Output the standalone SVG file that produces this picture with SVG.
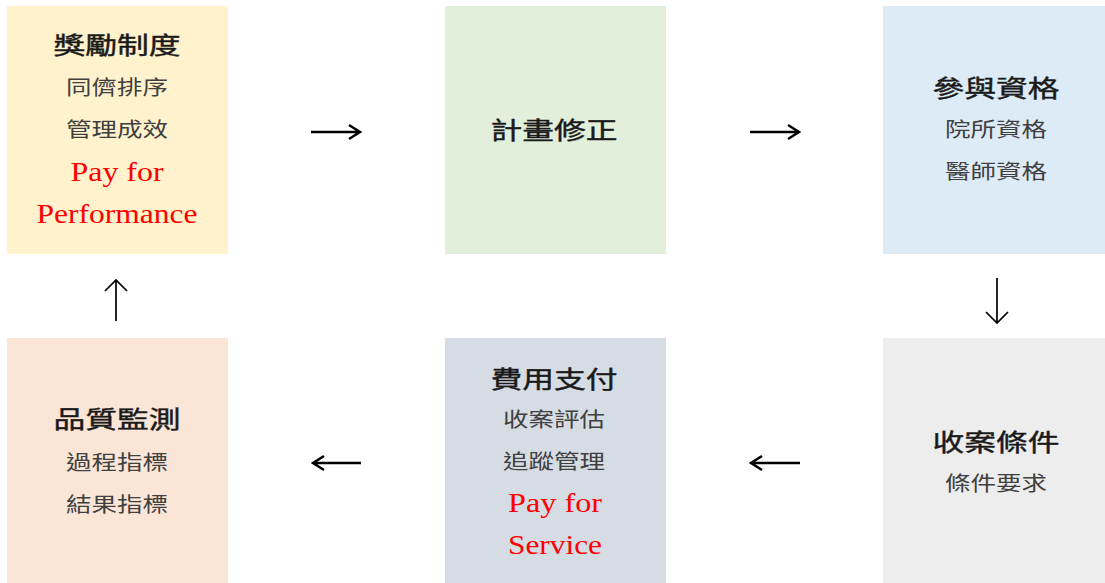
<svg xmlns="http://www.w3.org/2000/svg" width="1105" height="583" viewBox="0 0 1105 583">
<style>
.t{font-family:"Noto Sans CJK TC","Noto Sans CJK SC",sans-serif;font-size:24px;font-weight:normal;fill:#1a1a1a;stroke:#1a1a1a;stroke-width:0.4;text-anchor:middle}
.s{font-family:"Noto Sans CJK TC","Noto Sans CJK SC",sans-serif;font-size:20px;fill:#404040;text-anchor:middle}
.r{font-family:"Liberation Serif",serif;font-size:27px;fill:#ff0000;text-anchor:middle}
.a{fill:none;stroke:#000;stroke-width:2.5}
.v{fill:none;stroke:#000;stroke-width:1.7}
</style>
<rect width="1105" height="583" fill="#ffffff"/>
<g id="node-reward">
<rect x="7" y="6" width="221" height="248" fill="#FFF2CC"/>
<text class="t" x="117" y="54" textLength="127" lengthAdjust="spacingAndGlyphs">獎勵制度</text>
<text class="s" x="117" y="95" textLength="102" lengthAdjust="spacingAndGlyphs">同儕排序</text>
<text class="s" x="117" y="137" textLength="102" lengthAdjust="spacingAndGlyphs">管理成效</text>
<text class="r" x="117" y="181" textLength="93" lengthAdjust="spacingAndGlyphs">Pay for</text>
<text class="r" x="117" y="223" textLength="161" lengthAdjust="spacingAndGlyphs">Performance</text>
</g>
<g id="node-plan">
<rect x="445" y="6" width="221" height="248" fill="#E2EFDA"/>
<text class="t" x="554" y="139" textLength="127" lengthAdjust="spacingAndGlyphs">計畫修正</text>
</g>
<g id="node-eligibility">
<rect x="883" y="6" width="222" height="248" fill="#DDEBF7"/>
<text class="t" x="996" y="97" textLength="127" lengthAdjust="spacingAndGlyphs">參與資格</text>
<text class="s" x="996" y="137" textLength="102" lengthAdjust="spacingAndGlyphs">院所資格</text>
<text class="s" x="996" y="179" textLength="102" lengthAdjust="spacingAndGlyphs">醫師資格</text>
</g>
<g id="node-enrollment">
<rect x="883" y="338" width="222" height="245" fill="#EDEDED"/>
<text class="t" x="996" y="451" textLength="127" lengthAdjust="spacingAndGlyphs">收案條件</text>
<text class="s" x="996" y="491" textLength="102" lengthAdjust="spacingAndGlyphs">條件要求</text>
</g>
<g id="node-payment">
<rect x="445" y="338" width="221" height="245" fill="#D6DCE4"/>
<text class="t" x="554" y="388" textLength="127" lengthAdjust="spacingAndGlyphs">費用支付</text>
<text class="s" x="554" y="427" textLength="102" lengthAdjust="spacingAndGlyphs">收案評估</text>
<text class="s" x="554" y="469" textLength="102" lengthAdjust="spacingAndGlyphs">追蹤管理</text>
<text class="r" x="555" y="512" textLength="94" lengthAdjust="spacingAndGlyphs">Pay for</text>
<text class="r" x="555" y="554" textLength="94" lengthAdjust="spacingAndGlyphs">Service</text>
</g>
<g id="node-quality">
<rect x="7" y="338" width="221" height="245" fill="#FBE5D6"/>
<text class="t" x="117" y="428" textLength="127" lengthAdjust="spacingAndGlyphs">品質監測</text>
<text class="s" x="117" y="470" textLength="102" lengthAdjust="spacingAndGlyphs">過程指標</text>
<text class="s" x="117" y="512" textLength="102" lengthAdjust="spacingAndGlyphs">結果指標</text>
</g>
<g id="connectors">
<path class="a" d="M311,132 H360 M349,125 L360,132 L349,139"/>
<path class="a" d="M750,132 H799 M788,125 L799,132 L788,139"/>
<path class="v" d="M997,278 V323 M986,312 L997,323 L1008,312"/>
<path class="a" d="M800,463 H751 M762,456 L751,463 L762,470"/>
<path class="a" d="M361,463 H313 M324,456 L313,463 L324,470"/>
<path class="v" d="M116,321 V280 M105,291 L116,280 L127,291"/>
</g>
</svg>
